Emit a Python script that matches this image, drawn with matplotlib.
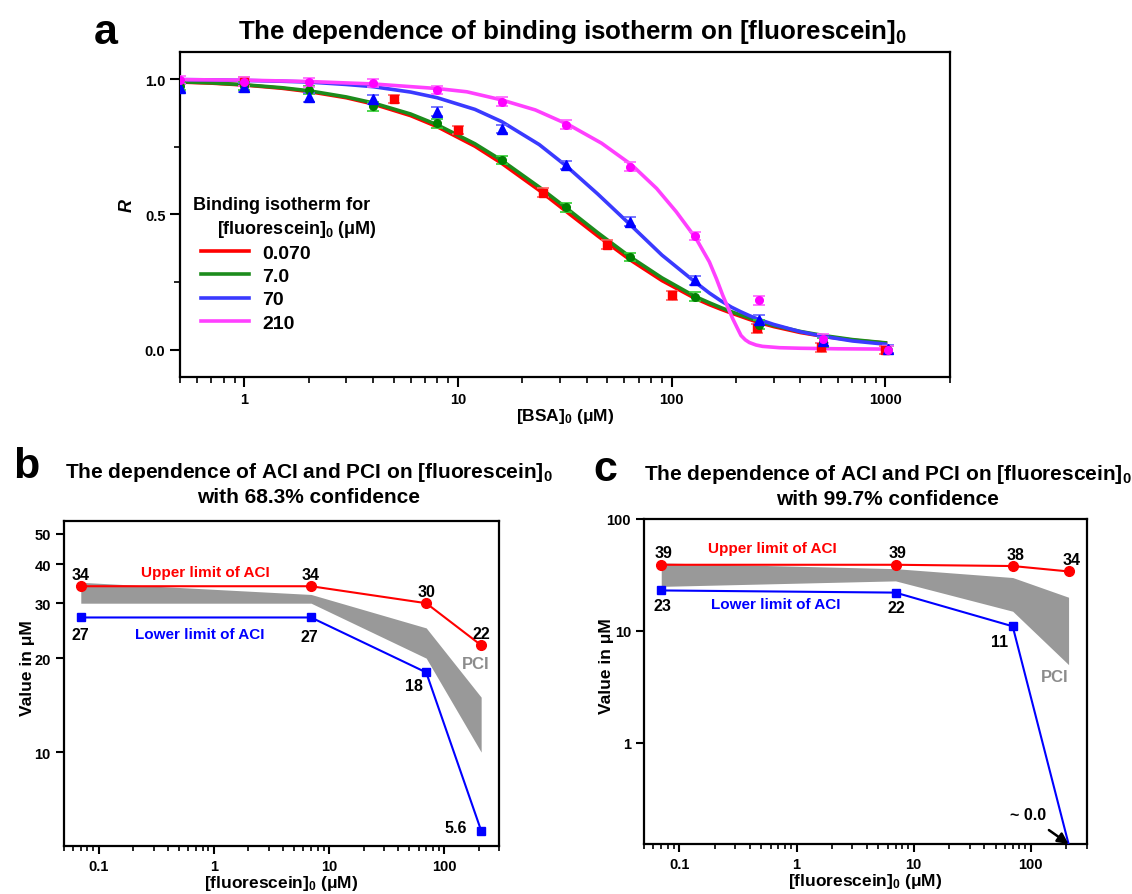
import matplotlib
matplotlib.use("Agg")
import matplotlib.pyplot as plt
from matplotlib.ticker import LogLocator, NullFormatter, NullLocator

plt.rcParams['font.family'] = ['Liberation Sans', 'DejaVu Sans']
plt.rcParams['font.weight'] = 'bold'
plt.rcParams['axes.titleweight'] = 'bold'
plt.rcParams['axes.labelweight'] = 'bold'
plt.rcParams['mathtext.fontset'] = 'custom'
plt.rcParams['mathtext.rm'] = 'Liberation Sans:bold'
plt.rcParams['mathtext.it'] = 'Liberation Sans:italic:bold'
plt.rcParams['mathtext.bf'] = 'Liberation Sans:bold'
plt.rcParams['axes.linewidth'] = 1.6

# ---- panel a: binding isotherms ----
# fitted curves, read at fixed [BSA]0 values
bsa_fit = [0.5, 0.7, 1, 1.5, 2, 3, 4, 6, 8, 12, 16, 24, 32, 45, 64, 90, 128,
           150, 170, 190, 210, 230, 256, 300, 400, 512, 700, 1000]
fit_red = [0.989, 0.985, 0.978, 0.966, 0.954, 0.931, 0.908, 0.865, 0.824, 0.752,
           0.689, 0.589, 0.512, 0.421, 0.332, 0.256, 0.191, 0.167, 0.150, 0.136,
           0.124, 0.113, 0.101, 0.086, 0.064, 0.050, 0.036, 0.025]
fit_green = [0.990, 0.986, 0.979, 0.968, 0.957, 0.934, 0.912, 0.871, 0.831, 0.761,
             0.700, 0.601, 0.525, 0.433, 0.343, 0.266, 0.198, 0.174, 0.156, 0.141,
             0.129, 0.118, 0.106, 0.090, 0.068, 0.053, 0.038, 0.026]
fit_blue = [0.998, 0.997, 0.995, 0.992, 0.989, 0.980, 0.972, 0.952, 0.931, 0.888,
            0.843, 0.758, 0.680, 0.576, 0.462, 0.350, 0.252, 0.210, 0.181, 0.158,
            0.141, 0.127, 0.112, 0.094, 0.067, 0.050, 0.033, 0.021]
bsa_fit_m = [0.5, 1, 2, 4, 8, 11, 16, 23, 33, 47, 65, 85, 105, 130, 150, 162, 173,
             183, 193, 202, 211, 221, 231, 248, 266, 320, 400, 600, 1000]
fit_magenta = [0.998, 0.996, 0.991, 0.982, 0.965, 0.953, 0.923, 0.886, 0.831, 0.763,
               0.683, 0.596, 0.510, 0.411, 0.325, 0.262, 0.203, 0.157, 0.115, 0.083,
               0.053, 0.037, 0.027, 0.018, 0.013, 0.008, 0.006, 0.004, 0.003]

# measured points
bsa_red = [1, 5, 10, 25, 50, 100, 250, 500, 1000]
r_red = [0.99, 0.927, 0.812, 0.581, 0.389, 0.201, 0.080, 0.010, 0.0]
bsa_pts = [0.5, 1, 2, 4, 8, 16, 32, 64, 128, 256, 512, 1024]
r_green = [0.975, 0.975, 0.960, 0.899, 0.837, 0.701, 0.526, 0.343, 0.197, 0.093, 0.028, 0.0]
r_blue = [0.967, 0.970, 0.932, 0.925, 0.880, 0.816, 0.683, 0.473, 0.257, 0.112, 0.031, 0.003]
r_magenta = [0.997, 0.990, 0.988, 0.985, 0.960, 0.917, 0.831, 0.677, 0.420, 0.183, 0.041, 0.0]
r_err = 0.016

labels_a = ['0.070', '7.0', '70', '210']

# ---- panels b and c: ACI / PCI ----
fl0 = [0.07, 7, 70, 210]
aci_hi_683 = [34, 34, 30, 22]
aci_lo_683 = [27, 27, 18, 5.6]
pci_hi_683 = [35, 32, 25, 15]
pci_lo_683 = [30, 30, 20, 10]

aci_hi_997 = [39, 39, 38, 34]
aci_lo_997 = [23, 22, 11, 0.125]
pci_hi_997 = [40.5, 36, 30, 20]
pci_lo_997 = [25, 28, 15, 5]

fig = plt.figure(figsize=(11.32, 8.95), dpi=100)

ax = fig.add_axes([0.159, 0.5777, 0.680, 0.3631])
ax.set_xscale('log')
cols = ['#ff0000', '#1c8c1c', '#3a3aff', '#ff40ff']
ax.plot(bsa_fit, fit_red, color=cols[0], lw=2.6, zorder=2)
ax.plot(bsa_fit, fit_green, color=cols[1], lw=2.6, zorder=2)
ax.plot(bsa_fit, fit_blue, color=cols[2], lw=2.6, zorder=2)
ax.plot(bsa_fit_m, fit_magenta, color=cols[3], lw=2.6, zorder=2)
ax.errorbar(bsa_red, r_red, yerr=r_err, fmt='s', ms=5.5, color='#ff0000',
            ecolor='#ff6060', capsize=4.5, elinewidth=1, capthick=1.2, zorder=3)
ax.errorbar(bsa_pts, r_green, yerr=r_err, fmt='o', ms=5.5, color='#008000',
            ecolor='#30d030', capsize=4.5, elinewidth=1, capthick=1.2, zorder=3)
ax.errorbar(bsa_pts, r_blue, yerr=r_err, fmt='^', ms=6.5, color='#0000ff',
            ecolor='#6060ff', capsize=4.5, elinewidth=1, capthick=1.2, zorder=3)
ax.errorbar(bsa_pts, r_magenta, yerr=r_err, fmt='o', ms=5.5, color='#ff00ff',
            ecolor='#ff60ff', capsize=4.5, elinewidth=1, capthick=1.2, zorder=3)
ax.set_xlim(0.5, 2000)
ax.set_ylim(-0.1, 1.1)
ax.set_xticks([1, 10, 100, 1000], labels=['1', '10', '100', '1000'])
ax.xaxis.set_minor_locator(LogLocator(base=10, subs=range(2, 10), numticks=20))
ax.xaxis.set_minor_formatter(NullFormatter())
ax.set_yticks([0.0, 0.5, 1.0], labels=['0.0', '0.5', '1.0'])
ax.set_yticks([0.25, 0.75], minor=True)
ax.tick_params(which='major', direction='out', length=7, width=1.5, labelsize=10.5)
ax.tick_params(which='minor', direction='out', length=4, width=1.2)
ax.set_xlabel('[BSA]$_0$ (μM)', fontsize=12.5, labelpad=0)
ax.set_ylabel('R', fontsize=13, fontstyle='italic')
ax.yaxis.set_label_coords(-0.057, 0.53)
ax.set_title('The dependence of binding isotherm on [fluorescein]$_0$',
             fontsize=18.7, pad=10, x=0.51)
# legend heading drawn as two text lines, second one indented
ax.text(0.0169, 0.532, 'Binding isotherm for', transform=ax.transAxes,
        fontsize=13, ha='left', va='center')
ax.text(0.048, 0.458, '[fluorescein]$_0$ (μM)', transform=ax.transAxes,
        fontsize=13, ha='left', va='center')
handles = ax.get_lines()[:4]
ax.legend(handles, labels_a, loc='center left', bbox_to_anchor=(0.005, 0.274),
          frameon=False, fontsize=14, handlelength=2.45, handletextpad=0.7,
          labelspacing=0.3)
fig.text(0.083, 0.963, 'a', fontsize=31, weight='bold', ha='left', va='center')


def aci_panel(ax, hi, lo, phi, plo, ylim):
    ax.set_xscale('log')
    ax.set_yscale('log')
    ax.fill_between(fl0, plo, phi, color='#999999', lw=0, zorder=1)
    ax.plot(fl0, hi, color='#ff0000', marker='o', ms=7, lw=1.5, zorder=3)
    ax.set_xlim(0.05, 300)
    ax.set_ylim(*ylim)
    ax.set_xticks([0.1, 1, 10, 100], labels=['0.1', '1', '10', '100'])
    ax.xaxis.set_minor_locator(LogLocator(base=10, subs=range(2, 10), numticks=20))
    ax.xaxis.set_minor_formatter(NullFormatter())
    ax.yaxis.set_minor_locator(NullLocator())
    ax.tick_params(which='major', direction='out', length=6, width=1.5, labelsize=10.5)
    ax.tick_params(which='minor', direction='out', length=3.5, width=1.2)
    ax.set_xlabel('[fluorescein]$_0$ (μM)', fontsize=12.5, labelpad=0)
    ax.set_ylabel('Value in μM', fontsize=12.5)


# panel b
axb = fig.add_axes([0.0565, 0.0536, 0.3843, 0.3631])
aci_panel(axb, aci_hi_683, aci_lo_683, pci_hi_683, pci_lo_683, (5, 55))
axb.plot(fl0, aci_lo_683, color='#0000ff', marker='s', ms=6, lw=1.5, zorder=3)
axb.set_yticks([10, 20, 30, 40, 50], labels=['10', '20', '30', '40', '50'])
axb.yaxis.set_minor_locator(NullLocator())
axb.yaxis.set_label_coords(-0.067, 0.55)
axb.set_title('The dependence of ACI and PCI on [fluorescein]$_0$\nwith 68.3% confidence',
              fontsize=15, pad=14, linespacing=1.25, x=0.563)
for xv, yv in zip(fl0, aci_hi_683):
    axb.annotate(f'{yv:g}', (xv, yv), xytext=(0, 12), textcoords='offset pixels',
                 ha='center', va='center', fontsize=11.5)
lo_offsets_b = [(0, -17), (-2, -19), (-12, -13), (-25, 3)]
for (xv, yv), off in zip(zip(fl0, aci_lo_683), lo_offsets_b):
    axb.annotate(f'{yv:g}', (xv, yv), xytext=off, textcoords='offset pixels',
                 ha='center', va='center', fontsize=11.5)
axb.text(0.84, 37.9, 'Upper limit of ACI', color='#ff0000', fontsize=11,
         ha='center', va='center')
axb.text(0.76, 23.9, 'Lower limit of ACI', color='#0000ff', fontsize=11,
         ha='center', va='center')
axb.text(188, 19.2, 'PCI', color='#8c8c8c', fontsize=12, ha='center', va='center')
fig.text(0.012, 0.478, 'b', fontsize=31, weight='bold', ha='left', va='center')

# panel c
axc = fig.add_axes([0.569, 0.0559, 0.391, 0.3631])
aci_panel(axc, aci_hi_997, aci_lo_997, pci_hi_997, pci_lo_997,
          (aci_lo_997[-1], 100))
axc.plot(fl0, aci_lo_997, color='#0000ff', marker='s', ms=6, lw=1.5, zorder=3,
         markevery=[0, 1, 2])
axc.set_yticks([1, 10, 100], labels=['1', '10', '100'])
axc.yaxis.set_minor_locator(NullLocator())
axc.yaxis.set_label_coords(-0.068, 0.55)
axc.set_title('The dependence of ACI and PCI on [fluorescein]$_0$\nwith 99.7% confidence',
              fontsize=15, pad=11, linespacing=1.25, x=0.55)
hi_offsets_c = [(2, 12), (2, 12), (3, 12), (3, 12)]
for (xv, yv), off in zip(zip(fl0, aci_hi_997), hi_offsets_c):
    axc.annotate(f'{yv:g}', (xv, yv), xytext=off, textcoords='offset pixels',
                 ha='center', va='center', fontsize=11.5)
lo_offsets_c = [(1, -15), (1, -15), (-13, -15)]
for (xv, yv), off in zip(zip(fl0[:3], aci_lo_997[:3]), lo_offsets_c):
    axc.annotate(f'{yv:g}', (xv, yv), xytext=off, textcoords='offset pixels',
                 ha='center', va='center', fontsize=11.5)
axc.annotate('~ 0.0', (fl0[-1], aci_lo_997[-1]), xytext=(-41, 29),
             textcoords='offset pixels', ha='center', va='center', fontsize=11.5,
             arrowprops=dict(arrowstyle='-|>', color='black', lw=1.8,
                             shrinkA=6, shrinkB=0, mutation_scale=16))
axc.text(0.62, 55, 'Upper limit of ACI', color='#ff0000', fontsize=11,
         ha='center', va='center')
axc.text(0.665, 17.5, 'Lower limit of ACI', color='#0000ff', fontsize=11,
         ha='center', va='center')
axc.text(161, 3.9, 'PCI', color='#8c8c8c', fontsize=12, ha='center', va='center')
fig.text(0.524, 0.475, 'c', fontsize=31, weight='bold', ha='left', va='center')

fig.savefig('out.png', dpi=100)
